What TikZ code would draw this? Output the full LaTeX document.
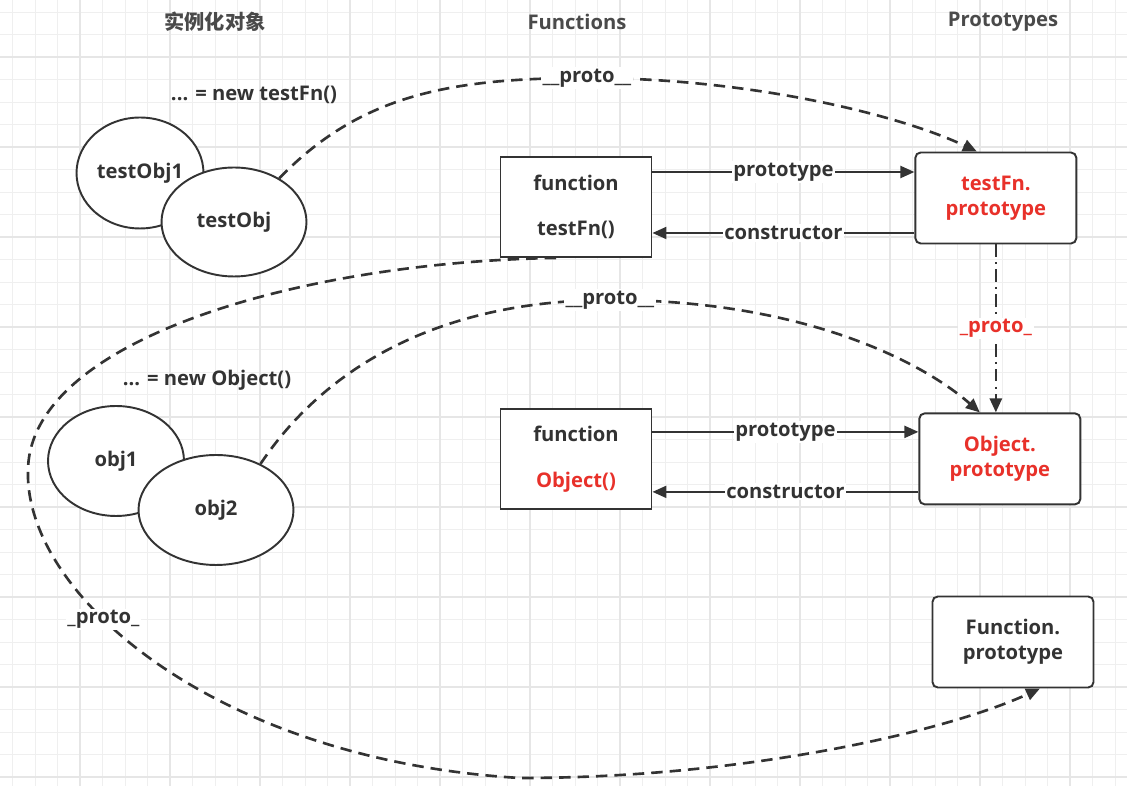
\documentclass[tikz,border=0pt]{standalone}
\usepackage{fontspec}
\setmainfont{Open Sans}
\newfontfamily\cjk{Noto Sans CJK SC}
\usetikzlibrary{positioning, arrows.meta, shapes.geometric, calc}
\definecolor{Ink}{HTML}{333333}
\definecolor{Title}{HTML}{4A4A4A}
\definecolor{Alert}{HTML}{E8312A}
\definecolor{GridMinor}{HTML}{EFEFEF}
\definecolor{GridMajor}{HTML}{E6E6E6}

\begin{document}
\begin{tikzpicture}[x=0.02cm, y=-0.02cm,
    every node/.style={font=\bfseries\fontsize{11.5}{14}\selectfont, text=Ink},
    fnbox/.style={draw=Ink, line width=1.1pt, fill=white, minimum width=3.02cm, minimum height=2cm, align=center},
    protobox/.style={draw=Ink, line width=1.1pt, fill=white, rounded corners=3pt, minimum width=3.22cm, minimum height=1.82cm, align=center},
    inst/.style={ellipse, draw=Ink, line width=1.1pt, fill=white, inner sep=0pt},
    arr/.style={-{Triangle[length=2.8mm, width=2.4mm]}, line width=1.2pt, color=Ink},
    protoarr/.style={arr, line width=1.5pt, dash pattern=on 6.5pt off 4pt},
    lbl/.style={fill=white, inner sep=1pt},
    coltitle/.style={text=Title}
]

\useasboundingbox (0,0) rectangle (1127,786);
\fill[white] (0,0) rectangle (1127,786);

% grid paper
\foreach \gx in {12.5,35,...,1127} \draw[GridMinor, line width=0.5pt] (\gx,0) -- (\gx,786);
\foreach \gy in {12,34.5,...,786} \draw[GridMinor, line width=0.5pt] (0,\gy) -- (1127,\gy);
\foreach \gx in {80,170,...,1127} \draw[GridMajor, line width=0.6pt] (\gx,0) -- (\gx,786);
\foreach \gy in {57,147,...,786} \draw[GridMajor, line width=0.6pt] (0,\gy) -- (1127,\gy);

% column titles
\node[coltitle] (colinst) at (215,22) {\cjk 实例化对象};
\node[coltitle] (colfn) at (577,22) {Functions};
\node[coltitle] (colproto) at (1003,22) {Prototypes};

% instances
\node (newfn) at (254,95) {... = new testFn()};
\node[inst, minimum width=2.54cm, minimum height=2.22cm] (tobj1) at (140,173) {testObj1};
\node[inst, minimum width=2.9cm, minimum height=2.18cm] (tobj) at (234,222) {testObj};

\node (newobj) at (207,380) {... = new Object()};
\node[inst, minimum width=2.72cm, minimum height=2.2cm] (obj1) at (116,461) {obj1};
\node[inst, minimum width=3.1cm, minimum height=2.2cm] (obj2) at (216,510) {obj2};

% functions
\node[fnbox] (fn1) at (576,207) {function\\[12pt]testFn()};
\node[fnbox, below=3cm of fn1] (fn2) {function\\[12pt]\textcolor{Alert}{Object()}};

% prototypes
\node[protobox, text=Alert, right=5.24cm of fn1, yshift=0.18cm] (proto1) {testFn.\\prototype};
\node[protobox, text=Alert, right=5.32cm of fn2] (proto2) {Object.\\prototype};
\node[protobox] (proto3) at (1013,642) {Function.\\prototype};

% prototype / constructor
\coordinate (fn1p) at ([yshift=0.7cm]fn1.east);
\coordinate (fn1c) at ([yshift=-0.52cm]fn1.east);
\coordinate (fn2p) at ([yshift=0.54cm]fn2.east);
\coordinate (fn2c) at ([yshift=-0.66cm]fn2.east);
\draw[arr] (fn1p) -- (fn1p -| proto1.west) node[lbl, midway] {prototype};
\draw[arr] (fn1c -| proto1.west) -- (fn1c) node[lbl, midway] {constructor};
\draw[arr] (fn2p) -- (fn2p -| proto2.west) node[lbl, midway] {prototype};
\draw[arr] (fn2c -| proto2.west) -- (fn2c) node[lbl, midway] {constructor};

% __proto__ chains
\draw[protoarr] (tobj.44) .. controls (360,95) and (450,78) .. (587,78) node[lbl] {\_\_proto\_\_}
    .. controls (750,78) and (900,115) .. ([xshift=-0.38cm]proto1.north);
\draw[protoarr] (obj2.46) .. controls (330,360) and (450,300) .. (610,300) node[lbl] {\_\_proto\_\_}
    .. controls (800,300) and (920,360) .. ([xshift=-0.4cm]proto2.north);
\draw[arr, line width=1.5pt, dash pattern=on 7pt off 3pt on 1.2pt off 3pt] (proto1.south) -- (proto1.south |- proto2.north)
    node[lbl, midway, text=Alert] {\_proto\_};
\draw[protoarr] ([xshift=-0.4cm]fn1.south) .. controls (300,262) and (30,340) .. (28,470)
    .. controls (24,595) and (215,760) .. (520,778) node[lbl, pos=0.38] {\_proto\_}
    .. controls (750,778) and (950,730) .. ([xshift=0.54cm]proto3.south);

\end{tikzpicture}
\end{document}
